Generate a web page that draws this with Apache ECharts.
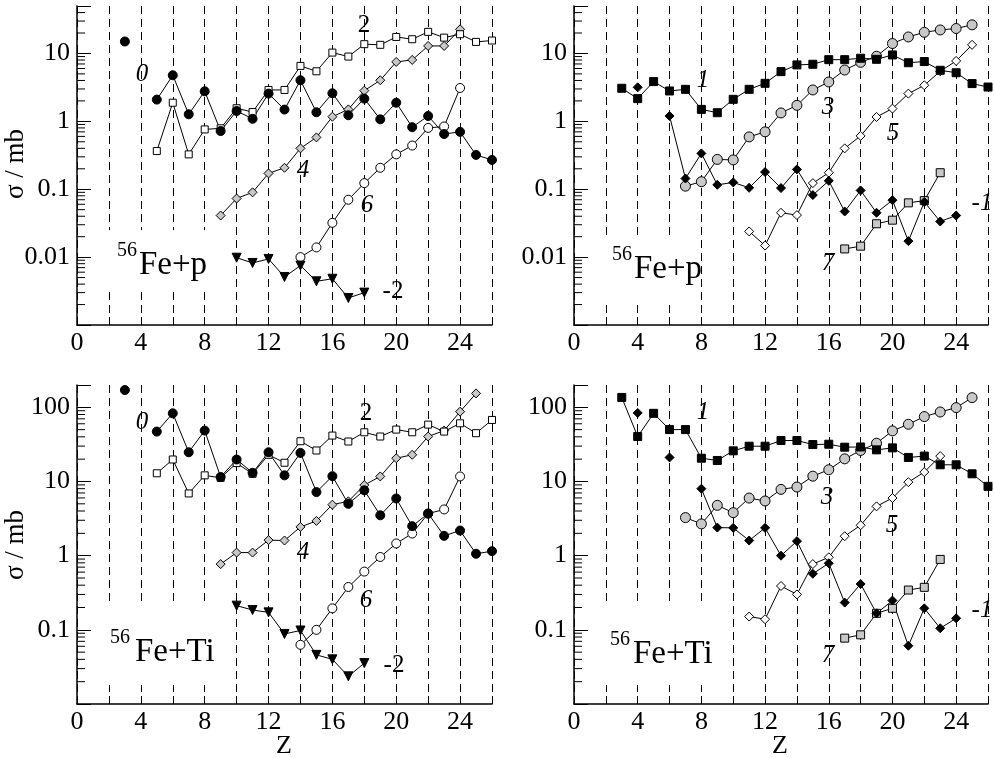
<!DOCTYPE html>
<html>
<head>
<meta charset="utf-8">
<script src="https://cdn.jsdelivr.net/npm/echarts@6/dist/echarts.min.js"></script>
<style>
html,body{margin:0;padding:0;background:#fff;}
#chart{width:994px;height:758px;}
</style>
</head>
<body>
<div id="chart"></div>
<script>
// Z values (atomic number of fragment), data arrays indexed by Z = 3..26
const Z = [3,4,5,6,7,8,9,10,11,12,13,14,15,16,17,18,19,20,21,22,23,24,25,26];
const xTicks = [0,4,8,12,16,20,24];
const yTicksTop = [0.01,0.1,1,10];
const yTicksBottom = [0.1,1,10,100];

// ---------- 56Fe + p : even series (top-left) ----------
const pFe0  = [15.0,null,2.09,4.77,1.27,2.77,0.72,1.42,1.09,2.56,1.49,4.03,1.36,2.59,1.23,2.16,1.07,1.88,0.82,1.2,0.65,0.70,0.32,0.27];
const pFe2  = [null,null,0.365,1.88,0.326,0.76,0.79,1.56,1.37,2.9,2.9,6.55,5.46,10.3,9.0,13.7,13.4,17.5,16.2,20.8,17.1,19.2,14.8,15.5];
const pFe4  = [null,null,null,null,null,null,0.041,0.073,0.090,0.171,0.207,0.40,0.58,1.17,1.50,2.83,4.03,7.5,8.03,12.9,12.9,22.7,null,null];
const pFe6  = [null,null,null,null,null,null,null,null,null,null,null,0.010,0.0139,0.032,0.070,0.123,0.207,0.326,0.44,0.80,0.84,3.1,null,null];
const pFeM2 = [null,null,null,null,null,null,null,0.0098,0.0082,0.0094,0.0051,0.0075,0.0044,0.0048,0.0025,0.0030,null,null,null,null,null,null,null,null];

// ---------- 56Fe + p : odd series (top-right) ----------
const pFe1  = [3.07,2.16,3.85,2.8,2.96,1.5,1.34,2.11,2.96,3.63,5.4,6.78,6.93,8.1,8.1,8.5,8.2,9.5,7.3,7.6,5.65,5.2,3.6,3.2];
const pFeM1 = [null,3.17,null,1.2,0.144,0.337,0.116,0.126,0.105,0.179,0.104,0.196,0.082,0.133,0.047,0.096,0.045,0.069,0.0172,0.065,0.0335,0.041,null,null];
const pFe3  = [null,null,null,null,0.111,0.129,0.275,0.27,0.59,0.70,1.33,1.72,2.9,3.8,5.7,7.4,9.1,14.0,17.5,20.5,22.2,23.3,26.4,null];
const pFe5  = [null,null,null,null,null,null,null,null,0.0239,0.0148,0.045,0.0416,0.123,0.175,0.40,0.61,1.16,1.54,2.56,3.4,5.46,7.76,13.4,null];
const pFe7  = [null,null,null,null,null,null,null,null,null,null,null,null,null,null,0.0132,0.0145,0.031,0.035,0.063,0.068,0.175,null,null,null];

// ---------- 56Fe + Ti : even series (bottom-left) ----------
const tFe0  = [171,null,47.1,83,24.8,48.6,11.5,19.8,13.1,24.8,12.1,24.3,7.2,11.8,5.0,7.6,3.5,5.9,2.5,3.7,1.85,2.18,1.06,1.15];
const tFe2  = [null,null,12.9,19.8,6.9,12.1,11.2,17.7,12.7,22.9,17.9,34.9,26.2,41.6,34.6,46.1,40.4,50.1,46.1,58.5,47.1,60.9,44.8,67.6];
const tFe4  = [null,null,null,null,null,null,0.77,1.1,1.1,1.62,1.6,2.44,2.94,4.87,5.4,8.95,11.7,20.6,22.9,40.4,48.6,87.4,154,null];
const tFe6  = [null,null,null,null,null,null,null,null,null,null,null,0.0628,0.100,0.195,0.378,0.61,0.96,1.46,1.99,3.69,4.2,11.7,null,null];
const tFeM2 = [null,null,null,null,null,null,null,0.212,0.185,0.172,0.088,0.098,0.046,0.040,0.0236,0.0356,null,null,null,null,null,null,null,null];

// ---------- 56Fe + Ti : odd series (bottom-right) ----------
const tFe1  = [136,40.4,83,50.1,50.1,20.6,19.2,25.9,29.9,29.9,35.7,35.7,31.5,31.8,29.0,29.2,26.7,28.4,21.1,22.0,16.8,16.8,12.7,8.6];
const tFeM1 = [null,84,null,21.1,null,8.0,2.39,2.37,1.6,2.37,1.0,1.57,0.57,0.79,0.233,0.415,0.167,0.248,0.061,0.195,0.105,0.143,null,null];
const tFe3  = [null,null,null,null,3.26,2.68,4.77,3.8,5.98,5.46,7.83,8.42,11.8,14.4,20.2,26.2,32.8,48.1,59.1,75,86.5,99,135,null];
const tFe5  = [null,null,null,null,null,null,null,null,0.151,0.139,0.39,0.30,0.77,0.95,1.83,2.57,4.62,5.98,9.8,13.4,22.0,null,null,null];
const tFe7  = [null,null,null,null,null,null,null,null,null,null,null,null,null,null,0.0773,0.0856,0.167,0.195,0.344,0.374,0.89,null,null,null];

const FONT = '"Liberation Serif","DejaVu Serif",serif';
const GRAY = '#c8c8c8';

const grids = [
  {left:77, top:6, width:415, height:319},
  {left:574, top:6, width:414, height:319},
  {left:77, top:385, width:415, height:319},
  {left:574, top:385, width:414, height:319}
];

function xAxisFor(i){
  return {
    type:'value', gridIndex:i, min:0, max:26, interval:2,
    axisLine:{show:true, onZero:false, lineStyle:{color:'#000', width:1.5}},
    axisTick:{show:true, inside:true, length:8, lineStyle:{color:'#000'}},
    axisLabel:{color:'#000', fontFamily:FONT, fontSize:26, margin:5,
      formatter:v => xTicks.indexOf(v) >= 0 ? String(v) : ''},
    splitLine:{show:true, lineStyle:{color:'#000', type:[8,5], width:1}}
  };
}
function yAxisFor(i, min, max, labels){
  return {
    type:'log', logBase:10, gridIndex:i, min:min, max:max,
    axisLine:{show:true, onZero:false, lineStyle:{color:'#000', width:1.5}},
    axisTick:{show:true, inside:true, length:14, lineStyle:{color:'#000'}},
    minorTick:{show:false},
    axisLabel:{color:'#000', fontFamily:FONT, fontSize:26, margin:7, showMinLabel:true, showMaxLabel:true,
      formatter:v => {
        for (const t of labels) { if (Math.abs(Math.log10(v) - Math.log10(t)) < 1e-6) return String(t); }
        return '';
      }},
    splitLine:{show:false}
  };
}

function mk(i, arr, symbol, size, fill, rotate){
  return {
    type:'line', xAxisIndex:i, yAxisIndex:i,
    data: Z.map((z,k) => [z, arr[k]]),
    connectNulls:false,
    symbol:symbol, symbolSize:size, symbolRotate:rotate||0, showSymbol:true,
    lineStyle:{color:'#000', width:1},
    itemStyle:{color:fill, borderColor:'#000', borderWidth:1},
    emphasis:{disabled:true},
    silent:true, animation:false
  };
}

// logarithmic minor ticks (2..9 x 10^k) drawn inside the y axis
function minorTicks(i, min, max){
  const vals = [];
  for (let e = Math.floor(Math.log10(min)); e <= Math.ceil(Math.log10(max)); e++) {
    for (let m = 2; m <= 9; m++) {
      const v = m * Math.pow(10, e);
      if (v > min && v < max) vals.push([0, v]);
    }
  }
  return {
    type:'custom', xAxisIndex:i, yAxisIndex:i, data:vals, silent:true, animation:false, z:3,
    clip:false,
    renderItem:(params, api) => {
      const p = api.coord([0, api.value(1)]);
      return {type:'line', shape:{x1:p[0], y1:p[1], x2:p[0]+8, y2:p[1]}, style:{stroke:'#000', lineWidth:1}};
    }
  };
}

const series = [
  minorTicks(0, 0.001, 50), minorTicks(1, 0.001, 50), minorTicks(2, 0.01, 200), minorTicks(3, 0.01, 200),
  // top-left
  mk(0, pFe4, 'diamond', 9, GRAY),
  mk(0, pFe6, 'circle', 9, '#fff'),
  mk(0, pFeM2, 'triangle', 9, '#000', 180),
  mk(0, pFe2, 'rect', 7, '#fff'),
  mk(0, pFe0, 'circle', 9, '#000'),
  // top-right
  mk(1, pFe3, 'circle', 10, GRAY),
  mk(1, pFe5, 'diamond', 9, '#fff'),
  mk(1, pFe7, 'rect', 8, GRAY),
  mk(1, pFeM1, 'diamond', 9, '#000'),
  mk(1, pFe1, 'rect', 8, '#000'),
  // bottom-left
  mk(2, tFe4, 'diamond', 9, GRAY),
  mk(2, tFe6, 'circle', 9, '#fff'),
  mk(2, tFeM2, 'triangle', 9, '#000', 180),
  mk(2, tFe2, 'rect', 7, '#fff'),
  mk(2, tFe0, 'circle', 9, '#000'),
  // bottom-right
  mk(3, tFe3, 'circle', 10, GRAY),
  mk(3, tFe5, 'diamond', 9, '#fff'),
  mk(3, tFe7, 'rect', 8, GRAY),
  mk(3, tFeM1, 'diamond', 9, '#000'),
  mk(3, tFe1, 'rect', 8, '#000')
];

function txt(x, y, s, size, italic, extra){
  return Object.assign({
    type:'text', x:x, y:y, z:10, silent:true,
    style:{text:s, fill:'#000', font:(italic?'italic ':'') + size + 'px ' + FONT,
      align:'center', verticalAlign:'middle'}
  }, extra||{});
}
function box(x, y, w, h){
  return {type:'rect', z:1, silent:true, shape:{x:x, y:y, width:w, height:h}, style:{fill:'#fff'}};
}
function reaction(x56, xMain, yMid, s){
  return [
    {type:'text', x:x56, y:yMid-14, z:10, silent:true,
      style:{text:'56', fill:'#000', font:'20px ' + FONT, align:'left', verticalAlign:'middle'}},
    {type:'text', x:xMain, y:yMid, z:10, silent:true,
      style:{text:s, fill:'#000', font:'33px ' + FONT, align:'left', verticalAlign:'middle'}}
  ];
}

const graphics = [
  box(107, 230, 108, 62),
  box(604, 237, 88, 63),
  box(107, 605, 108, 80),
  box(604, 605, 108, 80),
  ...reaction(117, 139, 265, 'Fe+p'),
  ...reaction(612, 634, 269, 'Fe+p'),
  ...reaction(110, 135, 652, 'Fe+Ti'),
  ...reaction(610, 633, 654, 'Fe+Ti'),
  // axis titles
  txt(16, 164, 'σ / mb', 27, false, {rotation:Math.PI/2}),
  txt(16, 545, 'σ / mb', 27, false, {rotation:Math.PI/2}),
  txt(284, 746, 'Z', 26, false),
  txt(780, 746, 'Z', 26, false),
  // series labels top-left
  txt(142, 74, '0', 25, true), txt(364, 25, '2', 25, false), txt(303, 170, '4', 25, true),
  txt(367, 205, '6', 25, true), txt(393, 291, '-2', 25, false),
  // top-right
  txt(703, 80, '1', 25, true), txt(828, 107, '3', 25, true), txt(893, 133, '5', 25, true),
  txt(982, 203, '-1', 25, true), txt(828, 263, '7', 25, true),
  // bottom-left
  txt(142, 422, '0', 25, true), txt(366, 413, '2', 25, false), txt(303, 552, '4', 25, true),
  txt(366, 600, '6', 25, true), txt(394, 665, '-2', 25, false),
  // bottom-right
  txt(703, 412, '1', 25, true), txt(827, 497, '3', 25, true), txt(892, 525, '5', 25, true),
  txt(982, 610, '-1', 25, true), txt(828, 655, '7', 25, true)
];

const chart = echarts.init(document.getElementById('chart'), null, {renderer:'canvas'});
chart.setOption({
  animation:false,
  backgroundColor:'#fff',
  grid:grids,
  xAxis:[xAxisFor(0), xAxisFor(1), xAxisFor(2), xAxisFor(3)],
  yAxis:[yAxisFor(0,0.001,50,yTicksTop), yAxisFor(1,0.001,50,yTicksTop), yAxisFor(2,0.01,200,yTicksBottom), yAxisFor(3,0.01,200,yTicksBottom)],
  series:series,
  graphic:graphics
});
</script>
</body>
</html>
